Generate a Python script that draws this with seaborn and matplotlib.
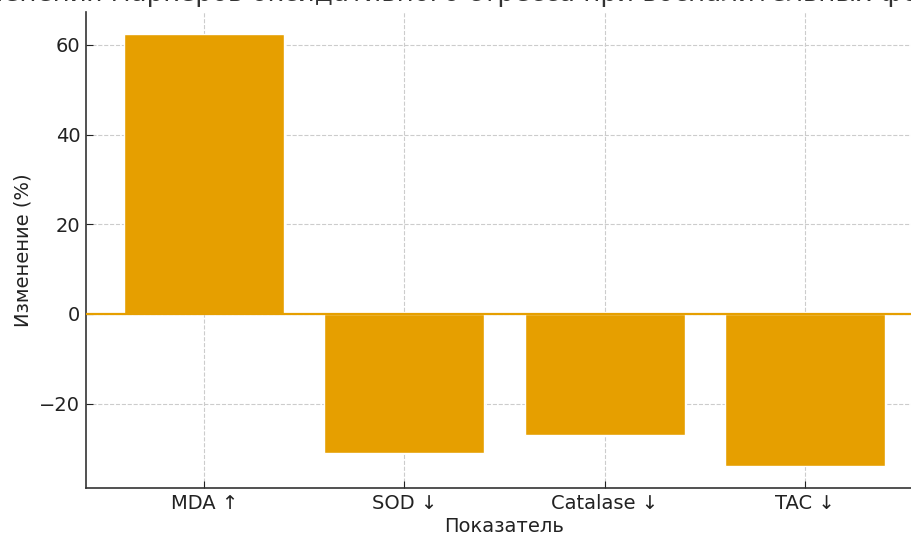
import matplotlib
matplotlib.use("Agg")
import matplotlib.pyplot as plt
import seaborn as sns
import pandas as pd

# data
markers = ["MDA ↑", "SOD ↓", "Catalase ↓", "TAC ↓"]
change_pct = [62.5, -31, -27, -34]
bar_color = "#E69F00"

df = pd.DataFrame({"Показатель": markers, "Изменение (%)": change_pct})

sns.set_style("ticks")
plt.rcParams['font.family'] = ['DejaVu Sans']

fig = plt.figure(figsize=(9.11, 5.35), dpi=100)
ax = fig.add_axes([86/911, 47/535, 837/911, 476/535])

sns.barplot(data=df, x="Показатель", y="Изменение (%)", color=bar_color,
            saturation=1, width=0.8, ax=ax, zorder=2)
ax.axhline(0, color=bar_color, linewidth=1.6, zorder=3)
ax.set_xlim(-0.59, 3.59)

ax.grid(True, linestyle="--", color="#cccccc", linewidth=0.8, zorder=0)
ax.set_axisbelow(True)
sns.despine(ax=ax, top=True, right=True)
for s in ["left", "bottom"]:
    ax.spines[s].set_color("#333333")
    ax.spines[s].set_linewidth(1.2)

ax.tick_params(labelsize=14, colors="#222222", direction="in", length=5, pad=4)
ax.set_xlabel("Показатель", fontsize=14, color="#222222", labelpad=3)
ax.set_ylabel("Изменение (%)", fontsize=14, color="#222222", labelpad=5)
ax.set_title("Изменения маркеров оксидативного стресса при воспалительных формах акне",
             fontsize=18.8, color="#333333", pad=8)

fig.savefig("out.png", dpi=100)
